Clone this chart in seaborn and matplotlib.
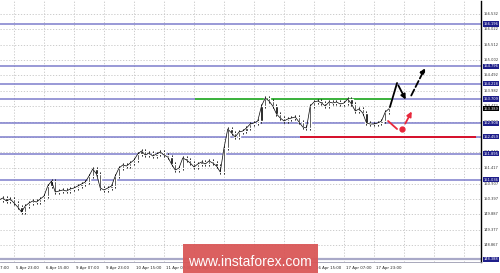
import numpy as np
import pandas as pd
import matplotlib
matplotlib.use("Agg")
import matplotlib.pyplot as plt
import matplotlib.transforms as mtrans
from matplotlib.patches import Rectangle
import seaborn as sns

# ---------------- data ----------------
# 2-hour bars, time in trading hours relative to 5 Apr 23:00
bar_hours = list(range(-8, 202, 2))
closes = [150.361, 150.427, 150.328, 150.394, 150.261, 150.128, 149.963, 150.162, 150.261, 150.328,
          150.294, 150.394, 150.493, 150.825, 150.991, 150.626, 150.659, 150.693, 150.659, 150.726,
          150.759, 150.825, 150.892, 150.958, 151.157, 151.389, 151.223, 150.759, 150.693, 150.759,
          150.825, 151.157, 151.422, 151.522, 151.489, 151.588, 151.688, 151.887, 151.987, 151.854,
          151.920, 151.821, 151.887, 151.953, 151.854, 151.787, 151.555, 151.356, 151.422, 151.754,
          151.688, 151.588, 151.456, 151.555, 151.621, 151.555, 151.655, 151.588, 151.489, 151.290,
          152.086, 152.716, 152.584, 152.451, 152.617, 152.650, 152.750, 152.882, 152.916, 152.982,
          153.480, 153.745, 153.645, 153.480, 153.214, 153.081, 152.982, 153.048, 153.081, 153.115,
          152.949, 152.783, 152.750, 153.480, 153.612, 153.645, 153.579, 153.480, 153.612, 153.579,
          153.612, 153.546, 153.579, 153.712, 153.546, 153.314, 153.380, 153.247, 152.916, 152.882,
          152.882, 152.916, 152.982, 153.280, 153.389]

scale_ticks = [156.532, 156.022, 155.512, 155.002, 154.492, 153.982, 153.472, 152.962, 152.452,
               151.942, 151.417, 150.907, 150.397, 149.887, 149.377, 148.867]
levels = [156.196, 154.796, 154.218, 153.709, 152.908, 152.459, 151.895, 151.036]
bottom_level = 148.388
current_price = 153.389

date_hours = [-16, 0, 16, 32, 48, 64, 80, 96, 112, 128, 144, 160, 176, 192]
date_labels = ["5 Apr 07:00", "5 Apr 23:00", "6 Apr 15:00", "9 Apr 07:00", "9 Apr 23:00",
               "10 Apr 15:00", "11 Apr 07:00", "11 Apr 23:00", "12 Apr 15:00", "13 Apr 07:00",
               "13 Apr 23:00", "16 Apr 15:00", "17 Apr 07:00", "17 Apr 23:00"]
grid_hours = [0, 16, 32, 48, 64, 80, 96, 112, 128, 144, 160, 176, 192, 208, 224, 240]

# resistance (green) and support (red) segments: start hour, end hour, price
green_seg = (96.5, 201.0, 153.709)
red_seg = (152.5, 246.5, 152.459)

# forecast sketches (hour, price)
black_up_h = [200.5, 204.3]
black_up_p = [153.446, 154.243]
black_down_end = (209.6, 153.612)
black_dash_start = (211.2, 153.745)
black_dash_end = (219.9, 154.820)
red_dash_h = [199.5, 204.3]
red_dash_p = [152.982, 152.716]
red_dot = (206.9, 152.716)
red_arrow_start = (208.0, 152.816)
red_arrow_end = (212.8, 153.380)

# ---------------- figure ----------------
sns.set_style("white")
plt.rcParams['font.family'] = ['DejaVu Sans']

W, H = 500, 273
fig = plt.figure(figsize=(W / 100, H / 100), dpi=100)
ax = fig.add_axes([0, 11 / H, 481 / W, 261 / H])
ax.set_xlim(-7.47, 249.07)
ax.set_ylim(148.304, 156.963)

# grid
for h in grid_hours:
    ax.axvline(h, color='#c4c4c4', lw=0.6, ls=(0, (1.5, 2)), zorder=0)
for t in scale_ticks:
    ax.axhline(t, color='#c4c4c4', lw=0.6, ls=(0, (1.5, 2)), zorder=0)

# levels
blue = '#7d7dcc'
for lv in levels:
    ax.axhline(lv, color=blue, lw=1.1, zorder=1)
ax.axhline(bottom_level, color='#a9a9c8', lw=1.6, zorder=1)
ax.hlines(green_seg[2], green_seg[0], green_seg[1], color='#3cb43c', lw=1.4, zorder=2)
ax.hlines(red_seg[2], red_seg[0], red_seg[1], color='#d8102a', lw=1.4, zorder=2)

# candles
df = pd.DataFrame({"hour": bar_hours, "close": closes})
df["open"] = [closes[0]] + closes[:-1]
top = np.maximum(df["open"], df["close"]) + 0.06
bot = np.minimum(df["open"], df["close"]) - 0.06
ax.vlines(df["hour"], bot, top, color='black', lw=0.7, zorder=3)
ax.bar(df["hour"], (df["close"] - df["open"]).abs() + 0.01,
       bottom=np.minimum(df["open"], df["close"]), width=1.2, color='black', zorder=3)
sns.lineplot(data=df, x="hour", y="close", ax=ax, color='black', lw=0.5, zorder=3)

# forecasts
ax.plot(black_up_h, black_up_p, color='black', lw=1.3, zorder=4)
ax.annotate("", xy=black_down_end, xytext=(black_up_h[1], black_up_p[1]),
            arrowprops=dict(arrowstyle='-|>', color='black', lw=1.3, mutation_scale=7), zorder=4)
ax.annotate("", xy=black_dash_end, xytext=black_dash_start,
            arrowprops=dict(arrowstyle='-|>', color='black', lw=1.3, ls='--', mutation_scale=7), zorder=4)
ax.plot(red_dash_h, red_dash_p, color='#e8283c', lw=1.3, zorder=4)
ax.plot([red_dot[0]], [red_dot[1]], 'o', color='#e8283c', ms=3.5, zorder=4)
ax.annotate("", xy=red_arrow_end, xytext=red_arrow_start,
            arrowprops=dict(arrowstyle='-|>', color='#e8283c', lw=1.3, mutation_scale=7), zorder=4)

# spines
for s in ['left', 'top']:
    ax.spines[s].set_visible(False)
ax.spines['right'].set_color('black')
ax.spines['right'].set_linewidth(1.0)
ax.spines['bottom'].set_color('#9a9ab0')
ax.spines['bottom'].set_linewidth(0.6)

# x ticks
ax.set_xticks([h for h in date_hours if h >= 0])
ax.set_xticklabels([])
ax.tick_params(axis='x', length=2, width=0.5, color='#555555')
ax.set_yticks([])
xtrans = mtrans.blended_transform_factory(ax.transData, ax.transAxes)
for h, lab in zip(date_hours, date_labels):
    ax.text(h + 1.0, -0.015, lab, transform=xtrans, ha='left', va='top', fontsize=2.8,
            color='#222222', clip_on=False)

# right price scale
ytrans = mtrans.blended_transform_factory(ax.transAxes, ax.transData)
for t in scale_ticks:
    ax.text(1.005, t, f"{t:.3f}", transform=ytrans, ha='left', va='center', fontsize=2.6,
            color='#333333', clip_on=False, zorder=5)
for lv in levels + [bottom_level]:
    ax.text(1.005, lv, f"{lv:.3f}", transform=ytrans, ha='left', va='center', fontsize=2.6,
            color='white', clip_on=False, zorder=6,
            bbox=dict(boxstyle='square,pad=0.2', fc='#1e1e8a', ec='none'))
ax.text(1.005, current_price, f"{current_price:.3f}", transform=ytrans, ha='left', va='center',
        fontsize=2.6, color='white', clip_on=False, zorder=7,
        bbox=dict(boxstyle='square,pad=0.2', fc='black', ec='none'))

# watermark
fig.add_artist(Rectangle((183 / W, 0), 135 / W, 29 / H, transform=fig.transFigure,
                         fc='#d95757', ec='none', alpha=0.95, zorder=10))
fig.text(250 / W, 11 / H, "www.instaforex.com", ha='center', va='center', color='white',
         fontsize=10, family=['Liberation Sans', 'DejaVu Sans'], zorder=11)

fig.savefig("out.png", dpi=100)
